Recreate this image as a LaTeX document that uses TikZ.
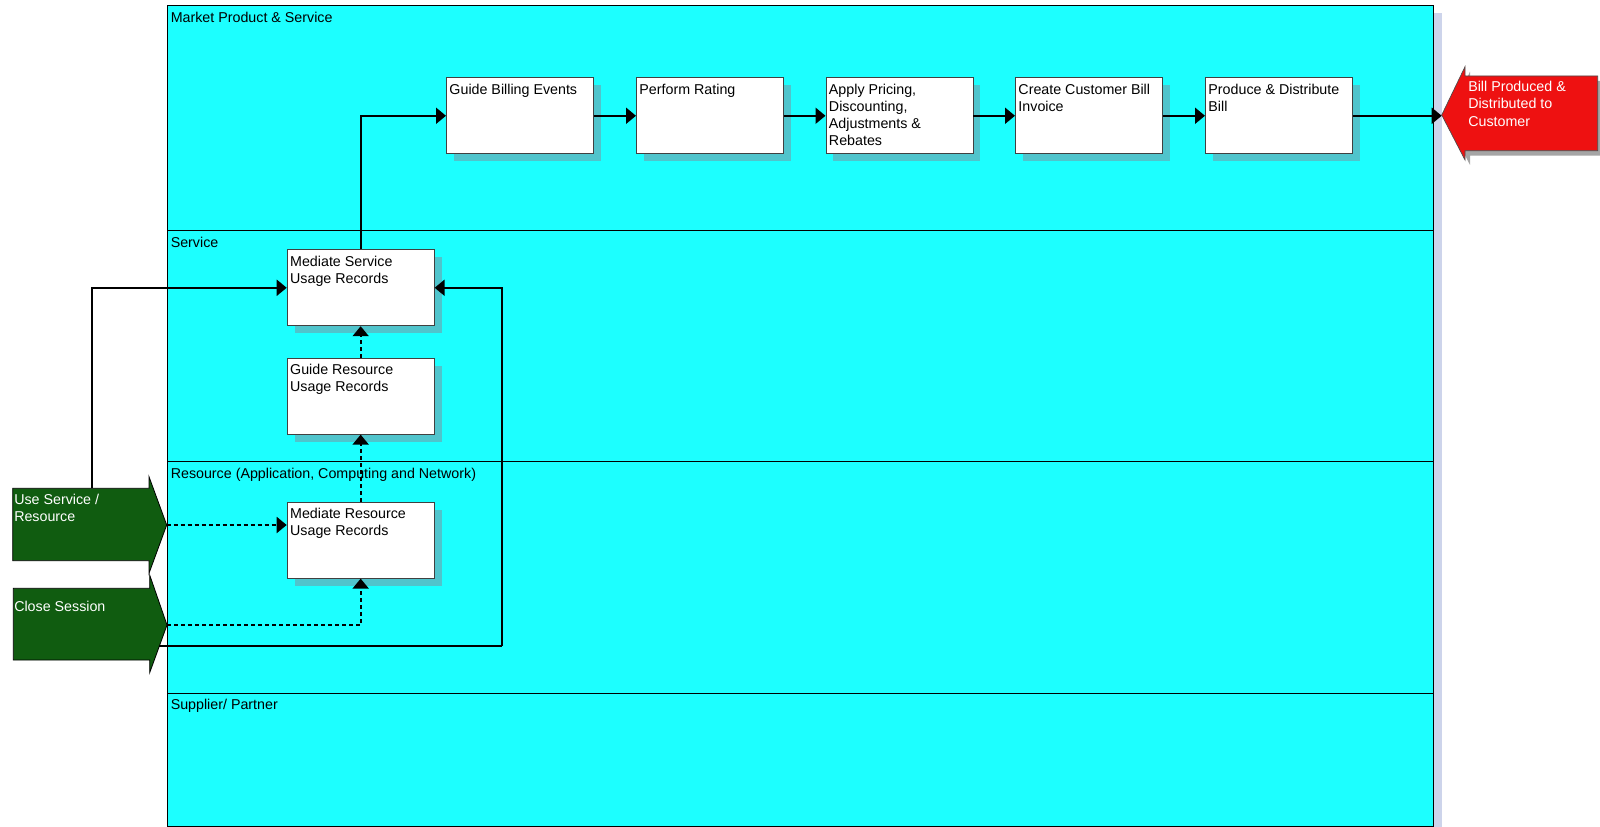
\documentclass[tikz,border=0pt]{standalone}
\usepackage{fontspec}
\setmainfont{Liberation Sans}
\usetikzlibrary{arrows.meta,shadows}
\definecolor{lanecyan}{RGB}{28,255,255}
\definecolor{shteal}{RGB}{80,196,204}
\definecolor{laneshadow}{RGB}{205,212,235}
\definecolor{gdark}{RGB}{16,92,16}
\definecolor{redfill}{RGB}{238,17,17}
\definecolor{redshadow}{RGB}{165,165,165}
\newcommand{\bxt}[1]{\parbox[c][48pt][t]{105.75pt}{\raggedright #1}}
\tikzset{
  txt/.style={font=\fontsize{10.7pt}{12.75pt}\selectfont},
  lane/.style={draw=black, line width=0.75pt, fill=lanecyan},
  lanelbl/.style={txt, anchor=north west, inner sep=0pt, align=left},
  pbox/.style={txt, draw=black!75, line width=0.7pt, fill=white, inner xsep=2.25pt, inner ysep=4.5pt,
     anchor=north west, drop shadow={shadow xshift=5.6pt, shadow yshift=-5.6pt, fill=shteal, opacity=1}},
  flow/.style={line width=1.5pt, -{Triangle[length=7.5pt,width=12pt]}},
  dflow/.style={line width=1.5pt, dash pattern=on 3pt off 2.25pt, -{Triangle[length=7.5pt,width=12pt]}},
  plain/.style={line width=1.5pt},
  garrow/.style={draw=black, line width=0.6pt, fill=gdark},
  wlbl/.style={txt, text=white, anchor=north west, inner sep=0pt, align=left},
}
\begin{document}
\begin{tikzpicture}[x=0.75pt,y=-0.75pt]
\useasboundingbox (0,0) rectangle (1600,827);
% lane shadow
\fill[laneshadow] (1433,13) rectangle (1442,827);
% lanes
\draw[lane] (167.3,6) rectangle (1433,231);
\draw[lane] (167.3,231) rectangle (1433,461);
\draw[lane] (167.3,461) rectangle (1433,693);
\draw[lane] (167.3,693) rectangle (1433,826);
\node[lanelbl] (lmarket) at (170.5,12) {Market Product \& Service};
\node[lanelbl] (lservice) at (170.5,237) {Service};
\node[lanelbl] (lresource) at (170.5,467.5) {Resource (Application, Computing and Network)};
\node[lanelbl] (lsupplier) at (170.5,699) {Supplier/ Partner};
% process boxes
\node[pbox] (gbe) at (446,77.3) {\bxt{Guide Billing Events}};
\node[pbox] (pr) at (636,77.3) {\bxt{Perform Rating}};
\node[pbox] (ap) at (825.5,77.3) {\bxt{Apply Pricing,\\ Discounting,\\ Adjustments \&\\ Rebates}};
\node[pbox] (ccb) at (1015,77.3) {\bxt{Create Customer Bill\\ Invoice}};
\node[pbox] (pdb) at (1205,77.3) {\bxt{Produce \& Distribute\\ Bill}};
\node[pbox] (msu) at (286.7,249.3) {\bxt{Mediate Service\\ Usage Records}};
\node[pbox] (gru) at (286.7,357.7) {\bxt{Guide Resource\\ Usage Records}};
\node[pbox] (mru) at (286.7,501.7) {\bxt{Mediate Resource\\ Usage Records}};
% green event arrows
\draw[garrow] (12.7,488.3) -- (149,488.3) -- (149,476.7) -- (166.7,525) -- (149,573.3) -- (149,560.7) -- (12.7,560.7) -- cycle;
\draw[garrow] (13.3,588.3) -- (149.7,588.3) -- (149.7,575) -- (167,625) -- (149.7,672.7) -- (149.7,660) -- (13.3,660) -- cycle;
\node[wlbl] (tuse) at (14,494) {Use Service /\\ Resource};
\node[wlbl] (tclose) at (14,600.6) {Close Session};
\coordinate (usetip) at (166.7,525);
\coordinate (usetop) at (91.7,488.3);
\coordinate (closetip) at (167,625);
\coordinate (closeline) at (159,646);
\coordinate (bend) at (501.7,646);
% red result arrow
\fill[redshadow] (1446.7,119.3) -- (1470,71.7) -- (1470,81) -- (1602.7,81) -- (1602.7,155.7) -- (1470,155.7) -- (1470,165) -- cycle;
\draw[draw=black!70, line width=0.5pt, fill=redfill] (1441.7,115) -- (1465,66.7) -- (1465,76) -- (1597.7,76) -- (1597.7,150.7) -- (1465,150.7) -- (1465,160) -- cycle;
\node[wlbl, font=\fontsize{10.7pt}{13.1pt}\selectfont] (tbill) at (1468,80.5) {Bill Produced \&\\ Distributed to\\ Customer};
\coordinate (billtip) at (1441.7,115);
% connectors
\draw[flow] (gbe.east) -- (pr.west);
\draw[flow] (pr.east) -- (ap.west);
\draw[flow] (ap.east) -- (ccb.west);
\draw[flow] (ccb.east) -- (pdb.west);
\draw[flow] (pdb.east) -- (pdb.east -| billtip);
\draw[flow] (msu.north) |- (gbe.west);
\draw[flow] (usetop) |- (msu.west);
\draw[plain] (closeline) -- (bend);
\draw[flow] (bend) |- (msu.east);
\draw[dflow] (usetip) -- (mru.west |- usetip);
\draw[dflow] (closetip) -| (mru.south);
\draw[dflow] (mru.north) -- (gru.south);
\draw[dflow] (gru.north) -- (msu.south);
\end{tikzpicture}
\end{document}
